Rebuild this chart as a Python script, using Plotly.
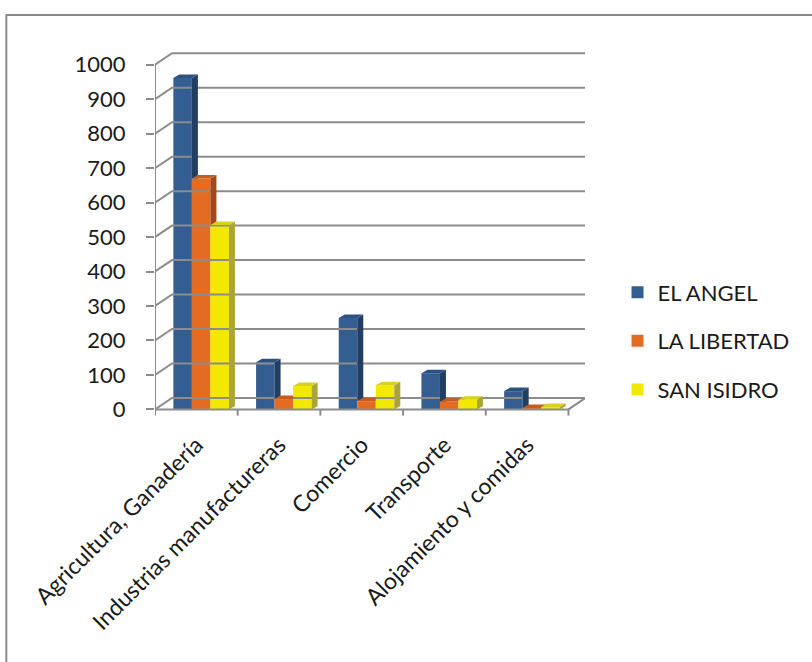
import plotly.graph_objects as go

# ---- data -------------------------------------------------------------
categories = ["Agricultura, Ganadería", "Industrias manufactureras",
              "Comercio", "Transporte", "Alojamiento y comidas"]
series_names = ["EL ANGEL", "LA LIBERTAD", "SAN ISIDRO"]
el_angel = [962, 137, 265, 105, 53]
la_libertad = [670, 30, 24, 22, 4]
san_isidro = [535, 68, 70, 28, 7]
y_ticks = [0, 100, 200, 300, 400, 500, 600, 700, 800, 900, 1000]

series_values = [el_angel, la_libertad, san_isidro]

# ---- styling ----------------------------------------------------------
FONT = "Lato"
FONT_SIZE = 22
front_colors = ["#345e91", "#e46c22", "#f3e800"]
side_colors = ["#223e62", "#a2481a", "#aaa43a"]
top_colors = ["#2c5283", "#c75d1c", "#d8d21c"]
GRID = "#8c8c8c"

W, H = 812, 662
ML, MT = 155, 50.5
X_RANGE = (0.0, 5.2)
Y_RANGE = (-25.0, 1040.0)
PX_PER_X = 82.6
PX_PER_Y = 0.3447
plot_w = (X_RANGE[1] - X_RANGE[0]) * PX_PER_X
plot_h = (Y_RANGE[1] - Y_RANGE[0]) * PX_PER_Y
MR = W - ML - plot_w
MB = H - MT - plot_h

# 3-D look: wall depth and bar depth in data units
WALL_DX, WALL_DY = 17 / PX_PER_X, 11.5 / PX_PER_Y
BAR_DX, BAR_DY = 6 / PX_PER_X, 3.5 / PX_PER_Y
BAR_W = 0.224
BAR_START = 0.222
n_cat = len(categories)

fig = go.Figure()

# walls: grid lines on the back wall and on the left side wall
gx, gy = [], []
for v in y_ticks:
    gx += [0, WALL_DX, n_cat + WALL_DX, None]
    gy += [v, v + WALL_DY, v + WALL_DY, None]
# floor edges
gx += [0, n_cat, n_cat + WALL_DX, None]
gy += [0, 0, WALL_DY, None]
fig.add_trace(go.Scatter(x=gx, y=gy, mode="lines",
                         line=dict(color=GRID, width=2),
                         hoverinfo="skip", showlegend=False))

# front value axis and category tick marks
ax_x = [0, 0, None]
ax_y = [0, y_ticks[-1], None]
for i in range(n_cat + 1):
    ax_x += [i, i, None]
    ax_y += [0, -18, None]
fig.add_trace(go.Scatter(x=ax_x, y=ax_y, mode="lines",
                         line=dict(color=GRID, width=2),
                         hoverinfo="skip", showlegend=False))

# front faces of the columns
for k, (name, vals) in enumerate(zip(series_names, series_values)):
    fig.add_trace(go.Bar(
        x=list(range(n_cat)), y=vals, name=name,
        offset=BAR_START + k * BAR_W, width=BAR_W,
        marker=dict(color=front_colors[k], line=dict(width=0)),
        legendgroup=name,
    ))


def clip_above(poly, h):
    """Keep the part of a polygon with y >= h."""
    out = []
    n = len(poly)
    for j in range(n):
        (x1, y1), (x2, y2) = poly[j], poly[(j + 1) % n]
        in1, in2 = y1 >= h, y2 >= h
        if in1:
            out.append((x1, y1))
        if in1 != in2:
            t = (h - y1) / (y2 - y1)
            out.append((x1 + t * (x2 - x1), h))
    return out


# side and top faces
for i in range(n_cat):
    for k in range(len(series_values)):
        v = series_values[k][i]
        x0 = i + BAR_START + k * BAR_W
        x1 = x0 + BAR_W
        nxt = series_values[k + 1][i] if k + 1 < len(series_values) else None

        side = [(x1, 0), (x1, v), (x1 + BAR_DX, v + BAR_DY), (x1 + BAR_DX, BAR_DY)]
        if nxt is not None:
            side = clip_above(side, nxt)
        if len(side) >= 3:
            fig.add_trace(go.Scatter(
                x=[p[0] for p in side] + [side[0][0]],
                y=[p[1] for p in side] + [side[0][1]],
                fill="toself", fillcolor=side_colors[k], mode="lines",
                line=dict(width=0), hoverinfo="skip", showlegend=False))

        yc = v if nxt is None else min(max(nxt, v), v + BAR_DY)
        top = [(x0, v), (x1, v), (x1, yc),
               (x1 + BAR_DX * (yc - v) / BAR_DY, yc),
               (x1 + BAR_DX, v + BAR_DY), (x0 + BAR_DX, v + BAR_DY)]
        fig.add_trace(go.Scatter(
            x=[p[0] for p in top] + [top[0][0]],
            y=[p[1] for p in top] + [top[0][1]],
            fill="toself", fillcolor=top_colors[k], mode="lines",
            line=dict(width=0), hoverinfo="skip", showlegend=False))

# outer frame of the chart area
def to_paper_x(px):
    return (px - ML) / plot_w


def to_paper_y(py):
    return (MT + plot_h - py) / plot_h


fig.add_shape(type="rect", xref="paper", yref="paper",
              x0=to_paper_x(6.5), x1=to_paper_x(W + 20),
              y0=to_paper_y(H + 20), y1=to_paper_y(14.5),
              line=dict(color="#8a8a8a", width=2), layer="below")

fig.update_layout(
    width=W, height=H,
    margin=dict(l=ML, r=MR, t=MT, b=MB, autoexpand=False),
    paper_bgcolor="white", plot_bgcolor="white",
    barmode="overlay",
    font=dict(family=FONT, size=FONT_SIZE, color="#1a1a1a"),
    showlegend=True,
    legend=dict(x=to_paper_x(617), y=to_paper_y(271), xanchor="left",
                yanchor="top", traceorder="grouped", tracegroupgap=17,
                bgcolor="rgba(0,0,0,0)", font=dict(size=FONT_SIZE)),
    xaxis=dict(range=list(X_RANGE), tickvals=[i + 0.5 for i in range(n_cat)],
               ticktext=categories, tickangle=-45, showgrid=False,
               zeroline=False, showline=False, ticks="", automargin=False,
               ticklabelstandoff=8, fixedrange=True,
               tickfont=dict(size=23)),
    yaxis=dict(range=list(Y_RANGE), tickvals=y_ticks,
               ticktext=[str(v) for v in y_ticks], showgrid=False,
               zeroline=False, showline=False, ticks="outside", ticklen=8,
               tickwidth=2, tickcolor=GRID, ticklabelstandoff=16,
               automargin=False, fixedrange=True),
)

fig.write_html("out.html")
